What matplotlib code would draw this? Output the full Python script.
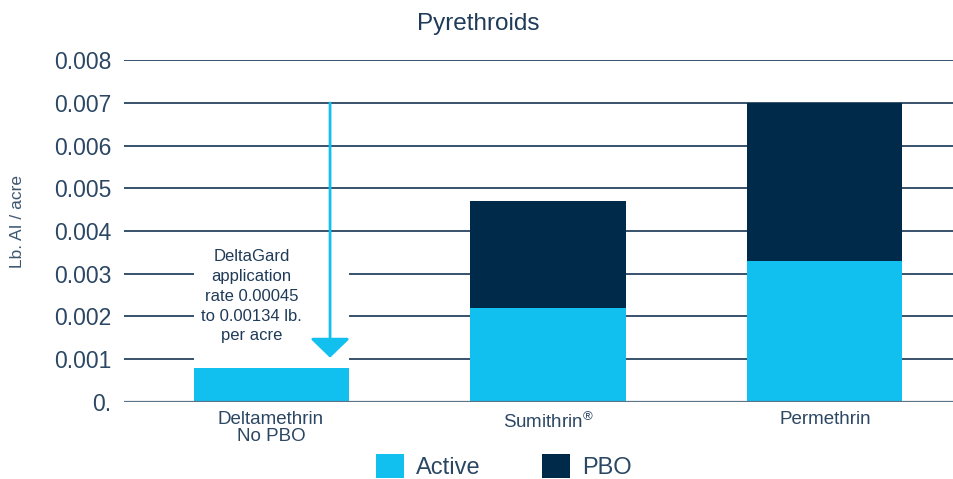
import matplotlib
matplotlib.use("Agg")
import matplotlib.pyplot as plt
from matplotlib.patches import Rectangle

plt.rcParams['font.family'] = ['Liberation Sans', 'DejaVu Sans']
plt.rcParams['mathtext.fontset'] = 'custom'
plt.rcParams['mathtext.rm'] = 'Liberation Sans'
plt.rcParams['mathtext.it'] = 'Liberation Sans'

# data
products = ["Deltamethrin\nNo PBO", "Sumithrin$^{\\mathrm{®}}$", "Permethrin"]
active = [0.0008, 0.0022, 0.0033]
pbo = [0.0, 0.0025, 0.0037]
yticks = [0, 0.001, 0.002, 0.003, 0.004, 0.005, 0.006, 0.007, 0.008]
ytick_labels = ["0.", "0.001", "0.002", "0.003", "0.004", "0.005", "0.006", "0.007", "0.008"]
note = "DeltaGard\napplication\nrate 0.00045\nto 0.00134 lb.\nper acre"

light_blue = "#12C0F0"
navy = "#002A4A"
text_col = "#1f3b58"

fig = plt.figure(figsize=(9.54, 4.79), dpi=100)
ax = fig.add_axes([124 / 954, 1 - 401.7 / 479, 1 - 124 / 954, (401.7 - 60.3) / 479])

x = range(len(products))
b1 = ax.bar(x, active, width=0.56, color=light_blue, label="Active", zorder=3)
b2 = ax.bar(x, pbo, width=0.56, bottom=active, color=navy, label="PBO", zorder=3)

ax.set_xlim(-0.531, 2.466)
ax.set_ylim(0, 0.008)
ax.set_yticks(yticks)
ax.set_yticklabels(ytick_labels)
ax.set_xticks(list(x))
ax.set_xticklabels(products, linespacing=1.0)
ax.tick_params(axis='y', length=0, pad=9, labelsize=16.5, labelcolor="#2b4763")
ax.tick_params(axis='x', length=0, pad=7, labelsize=13.5, labelcolor="#2b4763")

for s in ax.spines.values():
    s.set_visible(False)
ax.grid(axis='y', color="#26445f", lw=1.3, zorder=1)
ax.axhline(0, color="#5b7389", lw=1.6, zorder=4)

# white box behind note, then the note and arrow
ax.add_patch(Rectangle((-0.28, 0.00095), 0.56, 0.0029, facecolor="white",
                       edgecolor="none", zorder=2))
ax.text(-0.07, 0.00247, note, ha='center', va='center', fontsize=12,
        color=text_col, linespacing=1.4, zorder=5)
ax.annotate("", xy=(0.213, 0.00103), xytext=(0.213, 0.007),
            arrowprops=dict(arrowstyle="-|>,head_length=0.6,head_width=0.62",
                            mutation_scale=20, color=light_blue, lw=2,
                            shrinkA=0, shrinkB=0), zorder=5)

fig.text(478 / 954, 1 - 24 / 479, "Pyrethroids", ha='center', va='center',
         fontsize=17.5, color=text_col)
fig.text(18 / 954, 1 - 221 / 479, "Lb. AI / acre", rotation=90, ha='center',
         va='center', fontsize=12.5, color="#3d5670")

fig.legend(handles=[b1, b2], loc='center', bbox_to_anchor=(0.528, 0.027),
           ncol=2, frameon=False, fontsize=17, handlelength=1.19,
           handleheight=1.19, handletextpad=0.5, columnspacing=2.6,
           borderpad=0, labelcolor="#2b4763")

fig.savefig("out.png", dpi=100)
